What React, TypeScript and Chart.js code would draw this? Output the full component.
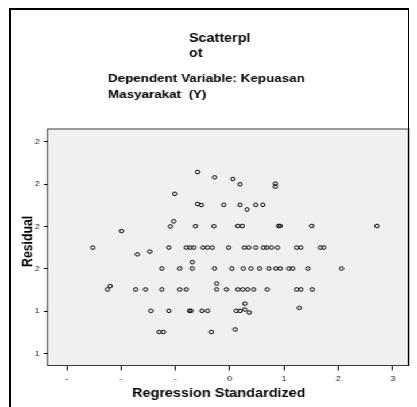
import { useEffect, useRef } from "react";
import { Chart, registerables } from "chart.js";

Chart.register(...registerables);

// The reference image is horizontally stretched; we draw at a narrower logical width and stretch.
const STRETCH = 417 / 363;
const FAMILY = "'Liberation Sans', Arial, Helvetica, sans-serif";

const titleLines = ["Scatterpl", "ot"];
const subtitleLines = ["Dependent Variable: Kepuasan", "Masyarakat  (Y)"];
const xAxisTitle = "Regression Standardized";
const yAxisTitle = "Residual";

const xTickValues = [-3, -2, -1, 0, 1, 2, 3];
const xTickLabels = ["-", "-", "-", "0", "1", "2", "3"];
const yTickValues = [1.6, 1.8, 2.0, 2.2, 2.4, 2.6];
const yTickLabels = ["1", "1", "2", "2", "2", "2"];

// Regression standardized predicted value (x)
const predicted = [
  -0.59, -0.28, 0.06, 0.19, 0.84, 0.84, -1.01,
  -0.59, -0.52, -0.11, 0.19, 0.32, 0.48, 0.61,
  -1.09, -1.03, -0.63, -0.29, 0.15, 0.23, 0.9, 0.93, 1.51, 2.71, -1.99,
  -2.52, -1.12, -0.8, -0.73, -0.66, -0.49, -0.41, -0.32, -0.02, 0.27, 0.35, 0.48, 0.62, 0.68, 0.77, 0.88, 1.23, 1.31, 1.67, 1.73,
  -1.7, -1.47,
  -1.25, -0.92, -0.69, -0.69, -0.28, 0.04, 0.25, 0.39, 0.55, 0.72, 0.85, 0.93, 1.09, 1.16, 1.44, 2.06,
  -2.25, -2.2, -1.73, -1.55, -1.25, -0.92, -0.8, -0.24, -0.24, -0.06, 0.15, 0.24, 0.33, 0.44, 0.69, 1.23, 1.31, 1.52,
  -1.45, -1.12, -0.74, -0.71, -0.51, -0.41, 0.12, 0.19, 0.28, 0.28, 0.36, 1.28,
  -1.3, -1.22, -0.34, 0.1,
];

// Regression standardized residual (y)
const residual = [
  2.457, 2.432, 2.424, 2.399, 2.402, 2.388, 2.354,
  2.306, 2.301, 2.302, 2.302, 2.28, 2.302, 2.302,
  2.2, 2.224, 2.201, 2.201, 2.202, 2.202, 2.202, 2.202, 2.202, 2.202, 2.178,
  2.1, 2.1, 2.1, 2.1, 2.1, 2.1, 2.1, 2.1, 2.1, 2.1, 2.1, 2.1, 2.1, 2.1, 2.1, 2.1, 2.1, 2.1, 2.1, 2.1,
  2.068, 2.081,
  2.001, 2.001, 2.001, 2.031, 2.001, 2.001, 2.001, 2.001, 2.001, 2.001, 2.001, 2.001, 2.001, 2.001, 2.001, 2.001,
  1.902, 1.918, 1.902, 1.902, 1.902, 1.902, 1.902, 1.93, 1.902, 1.902, 1.902, 1.902, 1.902, 1.902, 1.902, 1.902, 1.902, 1.902,
  1.801, 1.801, 1.801, 1.801, 1.801, 1.801, 1.801, 1.801, 1.835, 1.807, 1.793, 1.815,
  1.701, 1.701, 1.701, 1.713,
];

const plotBox = {
  id: "plotBox",
  beforeDraw(chart: any) {
    const { ctx, chartArea: a } = chart;
    ctx.save();
    ctx.fillStyle = "#f0f0f0";
    ctx.fillRect(a.left, a.top, a.right - a.left, a.bottom - a.top);
    ctx.restore();
  },
  afterDraw(chart: any) {
    const { ctx, chartArea: a } = chart;
    ctx.save();
    ctx.strokeStyle = "#3a3a3a";
    ctx.lineWidth = 1;
    ctx.strokeRect(a.left - 0.5, a.top - 0.5, a.right - a.left + 1, a.bottom - a.top + 1);

    ctx.fillStyle = "#000";
    ctx.textAlign = "left";
    ctx.textBaseline = "alphabetic";
    ctx.font = `bold 12.5px ${FAMILY}`;
    ctx.fillText(titleLines[0], 164.5, 41.7);
    ctx.fillText(titleLines[1], 164.5, 57.3);
    ctx.font = `bold 11.7px ${FAMILY}`;
    ctx.fillText(subtitleLines[0], 94, 82.3);
    ctx.fillText(subtitleLines[1], 94, 98.3);
    ctx.font = `bold 12.6px ${FAMILY}`;
    ctx.fillText(xAxisTitle, 114.9, 397.3);

    ctx.translate(28.1, 267);
    ctx.rotate(-Math.PI / 2);
    ctx.font = `bold 12.3px ${FAMILY}`;
    ctx.fillText(yAxisTitle, 0, 0);
    ctx.restore();
  },
};

export default function App() {
  const ref = useRef<HTMLCanvasElement | null>(null);

  useEffect(() => {
    document.body.style.margin = "0";
    const canvas = ref.current;
    if (!canvas) return;
    const points = predicted.map((x, i) => ({ x, y: residual[i] }));
    const chart = new Chart(canvas, {
      type: "scatter",
      data: {
        datasets: [
          {
            data: points,
            pointStyle: "circle",
            pointRadius: 1.8,
            pointHoverRadius: 1.8,
            borderWidth: 1,
            borderColor: "#000",
            backgroundColor: "rgba(0,0,0,0)",
          },
        ],
      },
      options: {
        animation: false,
        responsive: true,
        maintainAspectRatio: false,
        events: [],
        layout: { padding: { top: 129.5, right: 363 - 355.15, bottom: 0, left: 0 } },
        plugins: {
          legend: { display: false },
          tooltip: { enabled: false },
          title: { display: false },
        },
        scales: {
          x: {
            type: "linear",
            min: -3.344,
            max: 3.281,
            afterBuildTicks: (s: any) => {
              s.ticks = xTickValues.map((v) => ({ value: v }));
            },
            afterFit: (s: any) => {
              s.height = 407 - 365;
            },
            grid: {
              display: true,
              drawOnChartArea: false,
              drawTicks: true,
              tickLength: 5.5,
              tickColor: "#000",
              tickWidth: 1,
            },
            border: { display: false },
            ticks: {
              autoSkip: false,
              maxRotation: 0,
              padding: 3,
              color: "#222",
              font: { size: 8, family: FAMILY },
              callback: (_v: any, i: number) => xTickLabels[i],
            },
          },
          y: {
            type: "linear",
            min: 1.545,
            max: 2.658,
            afterBuildTicks: (s: any) => {
              s.ticks = yTickValues.map((v) => ({ value: v }));
            },
            afterFit: (s: any) => {
              s.width = 41.8;
            },
            grid: {
              display: true,
              drawOnChartArea: false,
              drawTicks: true,
              tickLength: 3.6,
              tickColor: "#000",
              tickWidth: 1,
            },
            border: { display: false },
            ticks: {
              autoSkip: false,
              padding: 3.5,
              color: "#222",
              font: { size: 8, family: FAMILY },
              callback: (_v: any, i: number) => yTickLabels[i],
            },
          },
        },
      },
      plugins: [plotBox],
    });
    return () => chart.destroy();
  }, []);

  return (
    <div style={{ width: 417, height: 407, overflow: "hidden", position: "relative", background: "#fff" }}>
      <div
        style={{
          position: "absolute",
          left: 0,
          top: 0,
          width: 363,
          height: 407,
          transform: `scaleX(${STRETCH})`,
          transformOrigin: "0 0",
        }}
      >
        <div style={{ position: "absolute", left: 0, top: 0, width: 363, height: 407 }}>
          <canvas ref={ref} />
        </div>
        <div style={{ position: "absolute", left: 8, top: 7.5, width: 348.4, height: 2.5, background: "#000" }} />
        <div style={{ position: "absolute", left: 8, top: 7.5, width: 2.3, height: 400, background: "#000" }} />
        <div style={{ position: "absolute", left: 354.6, top: 7.5, width: 1.8, height: 358, background: "#000" }} />
      </div>
    </div>
  );
}
